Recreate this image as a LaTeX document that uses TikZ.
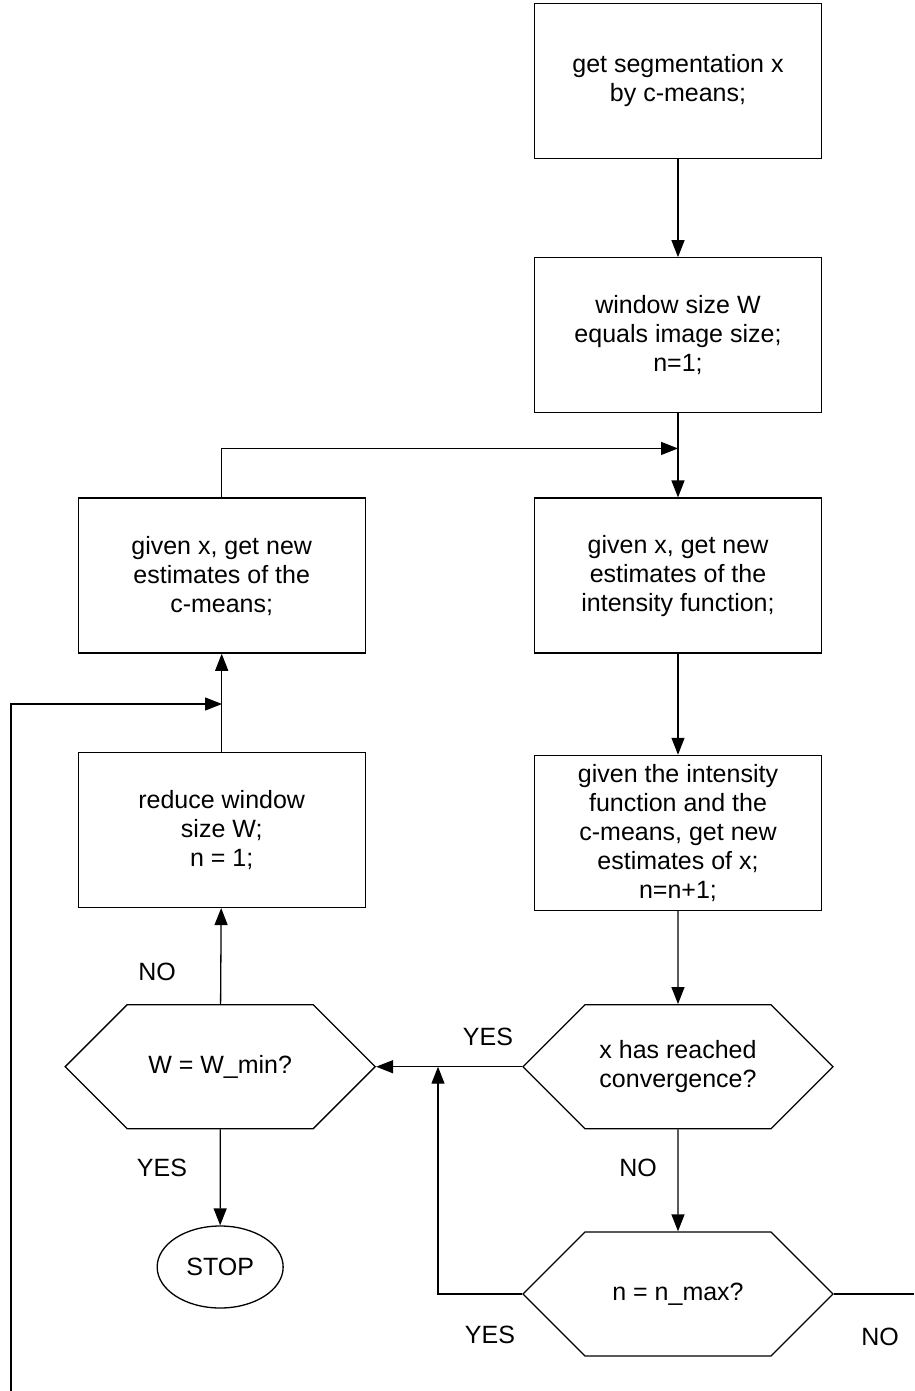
\documentclass[tikz,border=0pt]{standalone}
\usepackage{fontspec}
\setmainfont{Liberation Sans}
\usepackage{tikz}
\usetikzlibrary{shapes.symbols,shapes.geometric,arrows.meta,positioning}

\begin{document}
\begin{tikzpicture}[
        x=1pt, y=-1pt, line width=1.3pt,
        font=\fontsize{25}{29}\selectfont,
        stepbox/.style={rectangle, draw, align=center, minimum width=287pt, minimum height=155pt, inner sep=2pt},
        testbox/.style={signal, signal to=east and west, signal pointer angle=90, draw, align=center, minimum width=310pt, minimum height=124pt, inner sep=0pt},
        endbox/.style={ellipse, draw, minimum width=126pt, minimum height=82pt, inner sep=0pt},
        flow/.style={-{Triangle[length=17pt,width=13pt]}},
        tag/.style={inner sep=0pt}
    ]
        \useasboundingbox (0,0) rectangle (914,1391);
        % right column
        \node[stepbox] (segm) at (678,81) {get segmentation x\\by c-means;};
        \node[stepbox, below=98pt of segm] (wsize) {window size W\\equals image size;\\n=1;};
        \node[stepbox, below=84pt of wsize] (intens) {given x, get new\\estimates of the\\intensity function;};
        \node[stepbox, below=101pt of intens] (newx) {given the intensity\\function and the\\c-means, get new\\estimates of x;\\n=n+1;};
        \node[testbox, below=93pt of newx] (conv) {x has reached\\convergence?};
        \node[testbox, below=102pt of conv] (nmax) {n = n\_max?};
        % left column
        \node[stepbox, left=168pt of intens] (cmeans) {given x, get new\\estimates of the\\c-means;};
        \node[stepbox, below=98pt of cmeans] (reduce) {reduce window\\size W;\\n = 1;};
        \node[testbox, left=146pt of conv] (wmin) {W = W\_min?};
        \node[endbox, below=96pt of wmin] (stop) {STOP};
        % labels
        \node[tag] (noW) at (157,972) {NO};
        \node[tag] (yesC) at (488,1037) {YES};
        \node[tag] (yesW) at (162,1168) {YES};
        \node[tag] (noC) at (638,1168) {NO};
        \node[tag] (yesN) at (490,1335) {YES};
        \node[tag] (noN) at (880,1337) {NO};
        % joints
        \coordinate[above=49pt of intens] (join);
        \coordinate (yesjoin) at (438,0);
        \coordinate (exitR) at (914,0);
        \coordinate (entry) at (11,1391);
        \coordinate (feed) at (222,704);
        % connectors
        \draw[flow] (segm) -- (wsize);
        \draw[flow] (wsize) -- (intens);
        \draw[flow] (cmeans.north) |- (join);
        \draw[flow] (intens) -- (newx);
        \draw[flow] (newx) -- (conv);
        \draw[flow] (conv) -- (nmax);
        \draw[flow] (conv.west) -- (wmin.east);
        \draw[flow] (nmax.west) -| (conv.west -| yesjoin);
        \draw (nmax.east) -- (nmax.east -| exitR);
        \draw[flow] (wmin) -- (reduce);
        \draw[flow] (reduce) -- (cmeans);
        \draw[flow] (wmin) -- (stop);
        \draw[flow] (entry) |- (feed);
    \end{tikzpicture}
\end{document}
